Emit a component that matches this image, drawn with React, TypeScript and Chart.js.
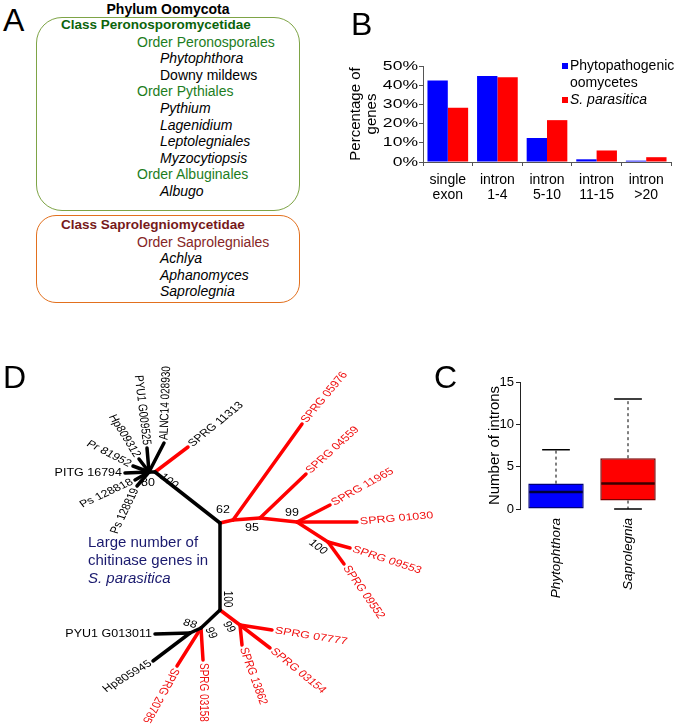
import React, { useEffect, useRef } from 'react';
import { Chart, registerables } from 'chart.js';
Chart.register(...registerables);

const FONT = '"Liberation Sans", Arial, Helvetica, sans-serif';
const RED = '#ff0000';
const BLUE = '#0000ff';
const AXIS = '#555555';

// ---------- Panel A (taxonomy) ----------
const peronosporaTaxa: [number, string, boolean][] = [
  [0, 'Class Peronosporomycetidae', false],
  [1, 'Order Peronosporales', false],
  [2, 'Phytophthora', true],
  [2, 'Downy mildews', false],
  [1, 'Order Pythiales', false],
  [2, 'Pythium', true],
  [2, 'Lagenidium', true],
  [2, 'Leptolegniales', true],
  [2, 'Myzocytiopsis', true],
  [1, 'Order Albuginales', false],
  [2, 'Albugo', true],
];
const saprolegniaTaxa: [number, string, boolean][] = [
  [0, 'Class Saprolegniomycetidae', false],
  [1, 'Order Saprolegniales', false],
  [2, 'Achlya', true],
  [2, 'Aphanomyces', true],
  [2, 'Saprolegnia', true],
];

// ---------- Panel B (bar chart) ----------
const intronCategories = [
  ['single', 'exon'],
  ['intron', '1-4'],
  ['intron', '5-10'],
  ['intron', '11-15'],
  ['intron', '>20'],
];
const seriesNames = ['Phytopathogenic oomycetes', 'S. parasitica'];
const seriesLegendLines = [['Phytopathogenic', 'oomycetes'], ['S. parasitica']];
const phytoPercent = [42.5, 44.8, 12.5, 1.4, 0.7];
const sparPercent = [28.2, 44.1, 21.8, 6.0, 2.5];

// ---------- Panel C (box plot) ----------
const boxGenera = ['Phytophthora', 'Saprolegnia'];
const boxMin = [0, 0];
const boxQ1 = [0, 1];
const boxMedian = [2, 3];
const boxQ3 = [3, 6];
const boxMax = [7, 13];

// ---------- Panel D (tree) ----------
const treeNodes: [string, number, number][] = [
  ['A', 149, 472], ['a1', 155, 472],
  ['PITG', 125, 473], ['Pr', 133, 466], ['Hp809312', 139, 459], ['PYU9525', 147, 448],
  ['ALNC', 164, 443], ['Ps818', 135, 480], ['Ps819', 137, 486], ['S11313', 188, 447],
  ['B', 220, 523], ['n62', 233, 520], ['n95', 260, 518], ['n99', 297, 522], ['n100', 328, 542],
  ['S05976', 302, 424], ['S04559', 306, 474], ['S11965', 330, 505], ['S01030', 357, 522],
  ['S09553', 350, 548], ['S09552', 344, 564],
  ['C', 220, 610], ['D', 201, 628], ['E', 190, 633],
  ['PYU3011', 155, 634], ['Hp805945', 153, 661], ['S20785', 177, 666], ['S03158', 203, 660],
  ['F', 240, 625], ['S07777', 272, 630], ['S13862', 242, 645], ['S03154', 270, 648],
];
const blackEdges: [string, string][] = [
  ['A', 'PITG'], ['A', 'Pr'], ['A', 'Hp809312'], ['A', 'PYU9525'], ['A', 'ALNC'],
  ['A', 'Ps818'], ['A', 'Ps819'], ['A', 'a1'], ['a1', 'B'], ['B', 'C'], ['C', 'D'],
  ['D', 'E'], ['E', 'PYU3011'], ['E', 'Hp805945'],
];
const redEdges: [string, string][] = [
  ['a1', 'S11313'], ['B', 'n62'], ['n62', 'S05976'], ['n62', 'n95'], ['n95', 'S04559'],
  ['n95', 'n99'], ['n99', 'S11965'], ['n99', 'S01030'], ['n99', 'n100'], ['n100', 'S09553'],
  ['n100', 'S09552'], ['D', 'S20785'], ['D', 'S03158'], ['C', 'F'], ['F', 'S07777'],
  ['F', 'S13862'], ['F', 'S03154'],
];
// [text, node, angle(deg), align, red?]
const leafLabels: [string, string, number, 'left' | 'right', boolean][] = [
  ['SPRG 05976', 'S05976', -50, 'left', true],
  ['SPRG 04559', 'S04559', -42, 'left', true],
  ['SPRG 11965', 'S11965', -29, 'left', true],
  ['SPRG 01030', 'S01030', -5, 'left', true],
  ['SPRG 09553', 'S09553', 18, 'left', true],
  ['SPRG 09552', 'S09552', 55, 'left', true],
  ['SPRG 11313', 'S11313', -39, 'left', false],
  ['ALNC14 028930', 'ALNC', -88, 'left', false],
  ['PYU1 G009525', 'PYU9525', 83, 'right', false],
  ['Hp809312', 'Hp809312', 58, 'right', false],
  ['Pr 81952', 'Pr', 27, 'right', false],
  ['PITG 16794', 'PITG', 0, 'right', false],
  ['Ps 128818', 'Ps818', -25, 'right', false],
  ['Ps 128819', 'Ps819', -64, 'right', false],
  ['PYU1 G013011', 'PYU3011', 0, 'right', false],
  ['Hp805945', 'Hp805945', -31, 'right', false],
  ['SPRG 20785', 'S20785', 119, 'left', true],
  ['SPRG 03158', 'S03158', 90, 'left', true],
  ['SPRG 13862', 'S13862', 70, 'left', true],
  ['SPRG 03154', 'S03154', 39, 'left', true],
  ['SPRG 07777', 'S07777', 9, 'left', true],
];
// [value, x, y, angle]
const bootstrapLabels: [string, number, number, number][] = [
  ['80', 148, 483, 0], ['100', 169, 481, 35], ['62', 223, 510, 0], ['95', 252, 528, 0],
  ['99', 292, 513, 0], ['100', 318, 547, 35], ['100', 227, 599, 90], ['88', 190, 624, 15],
  ['99', 211, 633, 60], ['99', 229, 627, 55],
];

const SQUASH = 0.8;
function drawSquashed(ctx: any, text: string, x: number, y: number, deg: number, align: string, font: string, color: string) {
  const t = (deg * Math.PI) / 180;
  const tp = Math.atan2(Math.sin(t) / SQUASH, Math.cos(t));
  ctx.save();
  ctx.translate(x, y);
  ctx.scale(1, SQUASH);
  ctx.rotate(tp);
  ctx.font = font;
  ctx.fillStyle = color;
  ctx.textAlign = align;
  ctx.textBaseline = 'middle';
  ctx.fillText(text, 0, 0);
  ctx.restore();
}

const bLegendPlugin = {
  id: 'bLegend',
  afterDraw(chart: any) {
    const { ctx, chartArea } = chart;
    const x0 = chartArea.right - 109;
    let y = chartArea.top;
    chart.data.datasets.forEach((ds: any, i: number) => {
      ctx.save();
      ctx.fillStyle = ds.backgroundColor;
      ctx.fillRect(x0, y - 3, 6, 6);
      ctx.fillStyle = '#000';
      ctx.font = `${i === 1 ? 'italic ' : ''}14px ${FONT}`;
      ctx.textAlign = 'left';
      ctx.textBaseline = 'middle';
      seriesLegendLines[i].forEach((line) => {
        ctx.fillText(line, x0 + 8, y);
        y += 17;
      });
      ctx.restore();
    });
  },
};

const bYTickPlugin = {
  id: 'bYTicks',
  afterDraw(chart: any) {
    const { ctx, chartArea } = chart;
    const ys = chart.scales.y;
    ys.ticks.forEach((t: any) => {
      const py = ys.getPixelForValue(t.value);
      ctx.save();
      ctx.translate(chartArea.left - 5, py);
      ctx.scale(1.35, 1);
      ctx.font = `13px ${FONT}`;
      ctx.fillStyle = '#000';
      ctx.textAlign = 'right';
      ctx.textBaseline = 'middle';
      ctx.fillText(`${t.value}%`, 0, 0);
      ctx.restore();
    });
  },
};

const boxPlugin = {
  id: 'boxWhiskers',
  afterDatasetsDraw(chart: any) {
    const { ctx } = chart;
    const ys = chart.scales.y;
    const meta = chart.getDatasetMeta(0);
    const medColors = ['#00003a', '#3a0000'];
    meta.data.forEach((bar: any, i: number) => {
      const { x, width } = bar.getProps(['x', 'width'], true);
      const capW = width * 0.5;
      ctx.save();
      ctx.strokeStyle = '#000';
      ctx.lineWidth = 1;
      ctx.setLineDash([3, 3]);
      ctx.beginPath();
      ctx.moveTo(x, ys.getPixelForValue(boxQ3[i]));
      ctx.lineTo(x, ys.getPixelForValue(boxMax[i]));
      if (boxQ1[i] > boxMin[i]) {
        ctx.moveTo(x, ys.getPixelForValue(boxQ1[i]));
        ctx.lineTo(x, ys.getPixelForValue(boxMin[i]));
      }
      ctx.stroke();
      ctx.setLineDash([]);
      ctx.lineWidth = 1.5;
      ctx.beginPath();
      const yMax = ys.getPixelForValue(boxMax[i]);
      ctx.moveTo(x - capW / 2, yMax);
      ctx.lineTo(x + capW / 2, yMax);
      if (boxQ1[i] > boxMin[i]) {
        const yMin = ys.getPixelForValue(boxMin[i]);
        ctx.moveTo(x - capW / 2, yMin);
        ctx.lineTo(x + capW / 2, yMin);
      }
      ctx.stroke();
      ctx.strokeStyle = medColors[i];
      ctx.lineWidth = 2.5;
      ctx.beginPath();
      const yMed = ys.getPixelForValue(boxMedian[i]);
      ctx.moveTo(x - width / 2 + 1, yMed);
      ctx.lineTo(x + width / 2 - 1, yMed);
      ctx.stroke();
      ctx.restore();
    });
  },
};

const treeLabelPlugin = {
  id: 'treeLabels',
  afterDatasetsDraw(chart: any) {
    const { ctx } = chart;
    const xs = chart.scales.x;
    const ys = chart.scales.y;
    const nodeMap = new Map(treeNodes.map(([id, x, y]) => [id, { x, y }]));
    leafLabels.forEach(([text, node, deg, align, red]) => {
      const n = nodeMap.get(node)!;
      const px = xs.getPixelForValue(n.x);
      const py = ys.getPixelForValue(n.y);
      const t = (deg * Math.PI) / 180;
      const off = align === 'left' ? 3 : -3;
      drawSquashed(ctx, text, px + off * Math.cos(t), py + off * Math.sin(t), deg, align,
        `12.5px ${FONT}`, red ? '#f01010' : '#000');
    });
    bootstrapLabels.forEach(([text, x, y, deg]) => {
      drawSquashed(ctx, text, xs.getPixelForValue(x), ys.getPixelForValue(y), deg, 'center',
        `12.5px ${FONT}`, '#000');
    });
  },
};

function TaxonRows({ rows, y0, classColor, orderColor }: any) {
  const xs = [61, 137, 160];
  return rows.map(([level, name, italic]: any, i: number) => (
    <div
      key={name}
      style={{
        position: 'absolute',
        left: xs[level],
        top: y0 + i * 16.6 - 7,
        lineHeight: '14px',
        fontSize: level === 0 ? 13.5 : 14,
        fontWeight: level === 0 ? 'bold' : 'normal',
        fontStyle: italic ? 'italic' : 'normal',
        color: level === 0 ? classColor : level === 1 ? orderColor : '#000',
        whiteSpace: 'nowrap',
      }}
    >
      {name}
    </div>
  ));
}

export default function App() {
  const bRef = useRef<HTMLCanvasElement>(null);
  const cRef = useRef<HTMLCanvasElement>(null);
  const dRef = useRef<HTMLCanvasElement>(null);

  useEffect(() => {
    const charts: any[] = [];
    charts.push(
      new Chart(bRef.current as any, {
        type: 'bar',
        data: {
          labels: intronCategories as any,
          datasets: [
            { label: seriesNames[0], data: phytoPercent, backgroundColor: BLUE, borderWidth: 0, categoryPercentage: 0.82, barPercentage: 1 },
            { label: seriesNames[1], data: sparPercent, backgroundColor: RED, borderWidth: 0, categoryPercentage: 0.82, barPercentage: 1 },
          ],
        },
        options: {
          responsive: false,
          animation: false,
          devicePixelRatio: 1,
          events: [],
          layout: { padding: { top: 66, right: 5, left: 0, bottom: 0 } },
          plugins: { legend: { display: false }, tooltip: { enabled: false } },
          scales: {
            x: {
              grid: { display: true, drawOnChartArea: false, drawTicks: true, tickLength: 4, color: AXIS, offset: true },
              border: { display: true, color: AXIS },
              ticks: { color: '#000', font: { family: FONT, size: 14, lineHeight: 1.1 }, padding: 6, maxRotation: 0, autoSkip: false },
              afterFit: (s: any) => { s.height = 53; },
            },
            y: {
              min: 0,
              max: 50,
              ticks: { display: false, stepSize: 10 },
              grid: { drawOnChartArea: false, drawTicks: true, tickLength: 4, color: AXIS },
              border: { color: AXIS },
              title: {
                display: true,
                text: ['Percentage of', 'genes'],
                color: '#000',
                font: { family: FONT, size: 15, lineHeight: 1.07 },
                padding: { top: 8, bottom: 0 },
              },
              afterFit: (s: any) => { s.width = 83; },
            },
          },
        } as any,
        plugins: [bYTickPlugin, bLegendPlugin],
      })
    );

    charts.push(
      new Chart(cRef.current as any, {
        type: 'bar',
        data: {
          labels: boxGenera,
          datasets: [
            {
              label: 'Number of introns',
              data: boxGenera.map((_, i) => [boxQ1[i], boxQ3[i]]) as any,
              backgroundColor: [BLUE, RED],
              borderColor: ['#00007a', '#7a0000'],
              borderWidth: 1.5,
              borderSkipped: false,
              categoryPercentage: 0.77,
              barPercentage: 1,
            },
          ],
        },
        options: {
          responsive: false,
          animation: false,
          devicePixelRatio: 1,
          events: [],
          layout: { padding: { top: 22, right: 12, left: 0, bottom: 0 } },
          plugins: { legend: { display: false }, tooltip: { enabled: false } },
          scales: {
            x: {
              grid: { display: false, drawTicks: false },
              border: { display: false },
              ticks: {
                color: '#000',
                font: { family: FONT, size: 13.5, style: 'italic' },
                minRotation: 90,
                maxRotation: 90,
                padding: 9,
                autoSkip: false,
              },
              afterFit: (s: any) => { s.height = 101; },
            },
            y: {
              min: 0,
              max: 15,
              ticks: { stepSize: 5, color: '#000', font: { family: FONT, size: 13 }, padding: 2 },
              grid: { drawOnChartArea: false, drawTicks: true, tickLength: 4, color: '#222' },
              border: { color: '#222' },
              title: {
                display: true,
                text: 'Number of introns',
                color: '#000',
                font: { family: FONT, size: 15, lineHeight: 1 },
                padding: { top: 17, bottom: 0 },
              },
              afterFit: (s: any) => { s.width = 50; },
            },
          },
        } as any,
        plugins: [boxPlugin],
      })
    );

    const nodeMap = new Map(treeNodes.map(([id, x, y]) => [id, { x, y }]));
    const edgeDataset = (e: [string, string], color: string) => ({
      data: [nodeMap.get(e[0]), nodeMap.get(e[1])],
      showLine: true,
      borderColor: color,
      borderWidth: 3.5,
      pointRadius: 0,
      borderCapStyle: 'round',
      borderJoinStyle: 'round',
    });
    charts.push(
      new Chart(dRef.current as any, {
        type: 'scatter',
        data: {
          datasets: [
            ...blackEdges.map((e) => edgeDataset(e, '#000')),
            ...redEdges.map((e) => edgeDataset(e, RED)),
          ] as any,
        },
        options: {
          responsive: false,
          animation: false,
          devicePixelRatio: 1,
          events: [],
          layout: { padding: 0 },
          plugins: { legend: { display: false }, tooltip: { enabled: false } },
          scales: {
            x: { type: 'linear', min: 0, max: 450, display: false },
            y: { type: 'linear', min: 330, max: 725, reverse: true, display: false },
          },
        } as any,
        plugins: [treeLabelPlugin],
      })
    );
    return () => charts.forEach((c) => c.destroy());
  }, []);

  const letter = (ch: string, left: number, top: number) => (
    <div style={{ position: 'absolute', left, top, fontSize: 32, lineHeight: '32px', color: '#000' }}>{ch}</div>
  );

  return (
    <div
      style={{
        position: 'absolute',
        left: 0,
        top: 0,
        width: 676,
        height: 725,
        overflow: 'hidden',
        background: '#fff',
        fontFamily: FONT,
      }}
    >
      <canvas ref={bRef} width={336} height={215} style={{ position: 'absolute', left: 340, top: 0 }} />
      <canvas ref={cRef} width={206} height={250} style={{ position: 'absolute', left: 470, top: 360 }} />
      <canvas ref={dRef} width={450} height={395} style={{ position: 'absolute', left: 0, top: 330 }} />

      {/* Panel A */}
      <div style={{ position: 'absolute', left: 36, top: 17, width: 264, height: 194, boxSizing: 'border-box', border: '1.5px solid #7ea446', borderRadius: 26 }} />
      <div style={{ position: 'absolute', left: 36, top: 215, width: 264, height: 88, boxSizing: 'border-box', border: '1.5px solid #e2701e', borderRadius: 20 }} />
      <div style={{ position: 'absolute', left: 36, top: 2, width: 264, textAlign: 'center', fontWeight: 'bold', fontSize: 14, lineHeight: '14px' }}>
        Phylum Oomycota
      </div>
      <TaxonRows rows={peronosporaTaxa} y0={25} classColor="#0b640b" orderColor="#1d7d1d" />
      <TaxonRows rows={saprolegniaTaxa} y0={225} classColor="#761a1a" orderColor="#862626" />

      {/* Panel D annotation */}
      <div style={{ position: 'absolute', left: 88, top: 533, fontSize: 15, lineHeight: '18px', color: '#1a1a6e', whiteSpace: 'nowrap' }}>
        <div>Large number of</div>
        <div>chitinase genes in</div>
        <div style={{ fontStyle: 'italic' }}>S. parasitica</div>
      </div>

      {letter('A', 3, 4)}
      {letter('B', 351, 8)}
      {letter('D', 3, 361)}
      {letter('C', 434, 361)}
    </div>
  );
}
